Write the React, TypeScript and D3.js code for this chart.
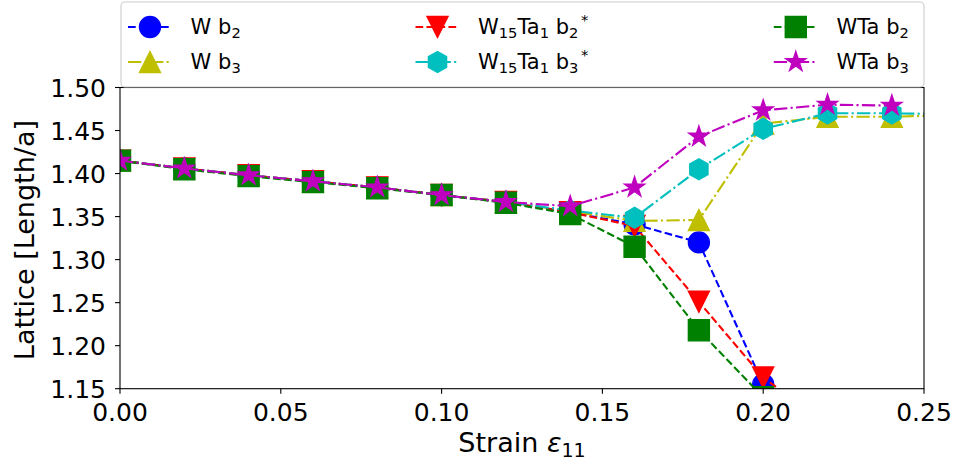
import React from "react";
import * as d3 from "d3";

const strain = [0, 0.02, 0.04, 0.06, 0.08, 0.1, 0.12, 0.14, 0.16, 0.18, 0.2, 0.22, 0.24, 0.26];

const wB2 = [1.415, 1.406, 1.398, 1.391, 1.384, 1.375, 1.367, 1.355, 1.341, 1.32, 1.155];
const wB3 = [1.415, 1.406, 1.398, 1.391, 1.384, 1.375, 1.367, 1.356, 1.345, 1.346, 1.458, 1.466, 1.466, 1.468];
const w15B2 = [1.415, 1.406, 1.398, 1.391, 1.384, 1.375, 1.367, 1.355, 1.339, 1.251, 1.163, 1.108];
const w15B3 = [1.415, 1.406, 1.398, 1.391, 1.384, 1.375, 1.367, 1.357, 1.3486, 1.405, 1.452, 1.47, 1.47, 1.469];
const wtaB2 = [1.415, 1.405, 1.397, 1.39, 1.383, 1.375, 1.366, 1.353, 1.315, 1.218, 1.14];
const wtaB3 = [1.415, 1.406, 1.398, 1.391, 1.384, 1.375, 1.367, 1.362, 1.384, 1.443, 1.4735, 1.48, 1.479];

const xTicks = [0, 0.05, 0.1, 0.15, 0.2, 0.25];
const yTicks = [1.15, 1.2, 1.25, 1.3, 1.35, 1.4, 1.45, 1.5];

type Seg = { t: string; sub?: boolean; sup?: boolean };

const seriesDefs = [
  { name: "wB2", values: wB2, color: "#0000ff", marker: "circle", dash: "dashed", label: [{ t: "W b" }, { t: "2", sub: true }] as Seg[] },
  { name: "wB3", values: wB3, color: "#bfbf00", marker: "triUp", dash: "dashdot", label: [{ t: "W b" }, { t: "3", sub: true }] as Seg[] },
  { name: "w15B2", values: w15B2, color: "#ff0000", marker: "triDown", dash: "dashed", label: [{ t: "W" }, { t: "15", sub: true }, { t: "Ta" }, { t: "1", sub: true }, { t: " b" }, { t: "2", sub: true }, { t: "*", sup: true }] as Seg[] },
  { name: "w15B3", values: w15B3, color: "#00bfbf", marker: "hexagon", dash: "dashdot", label: [{ t: "W" }, { t: "15", sub: true }, { t: "Ta" }, { t: "1", sub: true }, { t: " b" }, { t: "3", sub: true }, { t: "*", sup: true }] as Seg[] },
  { name: "wtaB2", values: wtaB2, color: "#008000", marker: "square", dash: "dashed", label: [{ t: "WTa b" }, { t: "2", sub: true }] as Seg[] },
  { name: "wtaB3", values: wtaB3, color: "#bf00bf", marker: "star", dash: "dashdot", label: [{ t: "WTa b" }, { t: "3", sub: true }] as Seg[] },
];

const W = 957;
const H = 465;
const L = 120;
const R = 924;
const T = 87.5;
const B = 388.7;
const MS = 21;
const FONT = "DejaVu Sans, sans-serif";

const dashes: Record<string, string> = {
  dashed: "7.7,3.3",
  dashdot: "13.3,3.3,2.1,3.3",
};

function markerPath(kind: string, s: number): string {
  const r = s / 2;
  switch (kind) {
    case "triUp":
      return `M0,${-r}L${-r},${r}L${r},${r}Z`;
    case "triDown":
      return `M0,${r}L${-r},${-r}L${r},${-r}Z`;
    case "square":
      return `M${-r},${-r}H${r}V${r}H${-r}Z`;
    case "hexagon": {
      const pts = d3.range(6).map((i) => {
        const a = Math.PI / 2 + (i * Math.PI) / 3;
        return [r * Math.cos(a), -r * Math.sin(a)];
      });
      return "M" + pts.map((p) => p.join(",")).join("L") + "Z";
    }
    case "star": {
      const inner = r * 0.381966;
      const pts = d3.range(10).map((i) => {
        const a = Math.PI / 2 + (i * Math.PI) / 5;
        const rr = i % 2 === 0 ? r : inner;
        return [rr * Math.cos(a), -rr * Math.sin(a)];
      });
      return "M" + pts.map((p) => p.join(",")).join("L") + "Z";
    }
    default:
      return "";
  }
}

function Marker({ kind, x, y, color }: { kind: string; x: number; y: number; color: string }) {
  if (kind === "circle") {
    return <circle cx={x} cy={y} r={MS / 2} fill={color} stroke={color} strokeWidth={1.4} />;
  }
  return <path d={markerPath(kind, MS)} transform={`translate(${x},${y})`} fill={color} stroke={color} strokeWidth={1.4} strokeLinejoin="miter" />;
}

function RichText({ segs, x, y, size }: { segs: Seg[]; x: number; y: number; size: number }) {
  let cur = 0;
  const subShift = size * 0.2;
  const supShift = -size * 0.42;
  const items = segs.map((s, i) => {
    const target = s.sub ? subShift : s.sup ? supShift : 0;
    const dy = target - cur;
    cur = target;
    const fs = s.sub || s.sup ? size * 0.7 : size;
    return (
      <tspan key={i} dy={dy} fontSize={fs} dx={s.sup ? size * 0.12 : 0}>
        {s.t}
      </tspan>
    );
  });
  return (
    <text x={x} y={y} fontFamily={FONT} fontSize={size} fill="#000" style={{ whiteSpace: "pre" }}>
      {items}
    </text>
  );
}

export default function App() {
  const x = d3.scaleLinear().domain([0, 0.25]).range([L, R]);
  const y = d3.scaleLinear().domain([1.15, 1.5]).range([B, T]);
  const line = d3
    .line<number>()
    .x((_, i) => x(strain[i]))
    .y((d) => y(d));

  const legendCols = [
    { hx: 128, tx: 190.6 },
    { hx: 415.5, tx: 478 },
    { hx: 773.8, tx: 836.5 },
  ];
  const rowBase = [34, 69];
  const rowMid = [27, 62];

  return (
    <svg width={W} height={H} style={{ position: "absolute", left: 0, top: 0, background: "#fff" }}>
      <defs>
        <clipPath id="plotclip">
          <rect x={L} y={T} width={R - L} height={B - T} />
        </clipPath>
      </defs>
      <rect x={0} y={0} width={W} height={H} fill="#fff" />
      <g clipPath="url(#plotclip)">
        {seriesDefs.map((s) => (
          <g key={s.name}>
            <path d={line(s.values) || ""} fill="none" stroke={s.color} strokeWidth={2.1} strokeDasharray={dashes[s.dash]} />
            {s.values.map((v, i) => (
              <Marker key={i} kind={s.marker} x={x(strain[i])} y={y(v)} color={s.color} />
            ))}
          </g>
        ))}
      </g>
      {/* frame */}
      <rect x={L} y={T} width={R - L} height={B - T} fill="none" stroke="#000" strokeWidth={1.1} />
      {/* x ticks */}
      {xTicks.map((t) => (
        <g key={"x" + t}>
          <line x1={x(t)} x2={x(t)} y1={B} y2={B + 5} stroke="#000" strokeWidth={1.1} />
          <text x={x(t)} y={421} textAnchor="middle" fontFamily={FONT} fontSize={25} fill="#000">
            {d3.format(".2f")(t)}
          </text>
        </g>
      ))}
      {yTicks.map((t) => (
        <g key={"y" + t}>
          <line x1={L - 5} x2={L} y1={y(t)} y2={y(t)} stroke="#000" strokeWidth={1.1} />
          <text x={106} y={y(t) + 9.5} textAnchor="end" fontFamily={FONT} fontSize={25} fill="#000">
            {d3.format(".2f")(t)}
          </text>
        </g>
      ))}
      {/* axis labels */}
      <text x={522} y={452} textAnchor="middle" fontFamily={FONT} fontSize={27} fill="#000">
        <tspan>Strain </tspan>
        <tspan fontStyle="italic">ε</tspan>
        <tspan fontSize={19} dy={5}>11</tspan>
      </text>
      <text transform={`translate(34,${(T + B) / 2 + 2}) rotate(-90)`} textAnchor="middle" fontFamily={FONT} fontSize={27} fill="#000">
        Lattice [Length/a]
      </text>
      {/* legend */}
      <rect x={121} y={2} width={803} height={85} rx={4} ry={4} fill="#fff" fillOpacity={0.8} stroke="#cccccc" strokeWidth={1.1} />
      {seriesDefs.map((s, i) => {
        const col = legendCols[Math.floor(i / 2)];
        const row = i % 2;
        const cy = rowMid[row];
        return (
          <g key={"lg" + s.name}>
            <line x1={col.hx} x2={col.hx + 44} y1={cy} y2={cy} stroke={s.color} strokeWidth={2.1} strokeDasharray={dashes[s.dash]} />
            <Marker kind={s.marker} x={col.hx + 22} y={cy} color={s.color} />
            <RichText segs={s.label} x={col.tx} y={rowBase[row]} size={21} />
          </g>
        );
      })}
    </svg>
  );
}
